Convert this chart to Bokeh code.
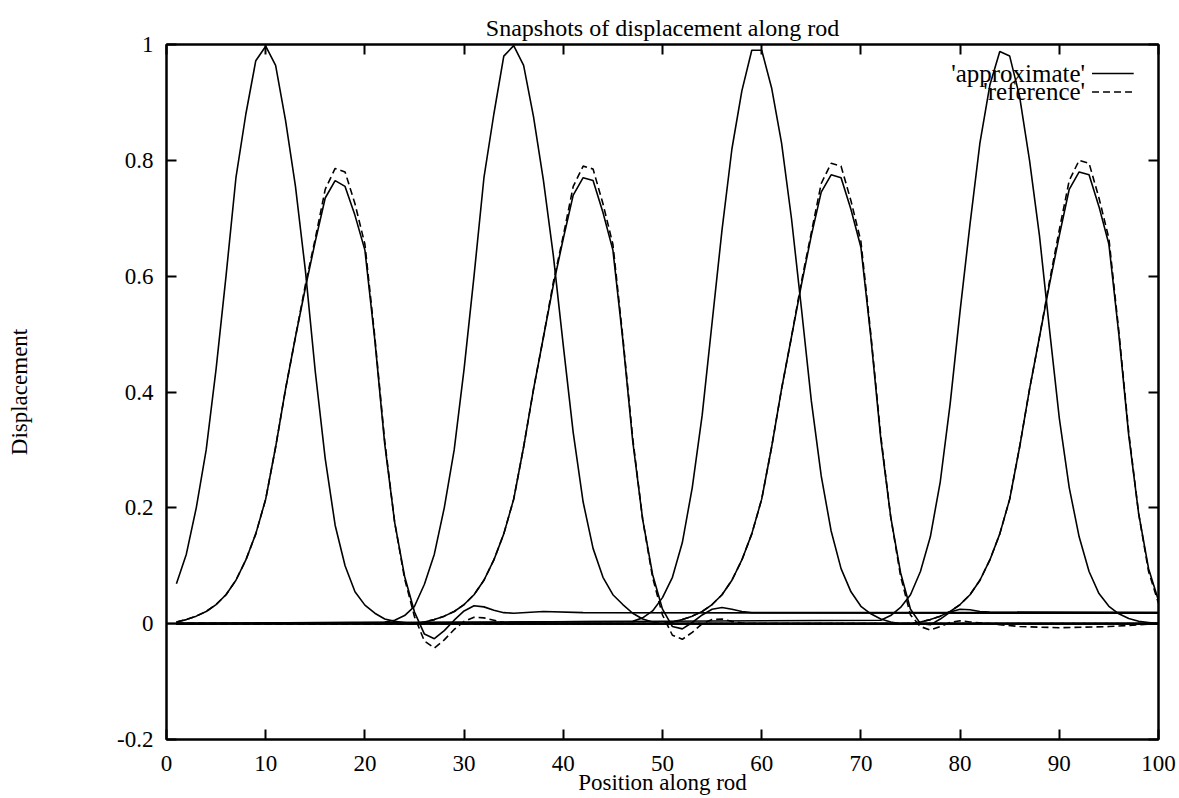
from bokeh.plotting import figure
from bokeh.models import Range1d, FixedTicker, LinearAxis, Span, Label, Arrow
from bokeh.embed import file_html
from bokeh.resources import INLINE

# ---------------- data ----------------
x_ticks = [0, 10, 20, 30, 40, 50, 60, 70, 80, 90, 100]
y_ticks = [-0.2, 0, 0.2, 0.4, 0.6, 0.8, 1]
y_tick_labels = ["-0.2", "0", "0.2", "0.4", "0.6", "0.8", "1"]

# narrow pulses (approximate and reference coincide)
n1_pos = [1, 2, 3, 4, 5, 6, 7, 8, 9, 10, 11, 12, 13, 14, 15, 16, 17, 18, 19, 20, 21, 22, 23, 24, 25, 100]
n1_val = [0.069, 0.12, 0.20, 0.30, 0.44, 0.60, 0.77, 0.88, 0.972, 0.997, 0.964, 0.869, 0.755, 0.61, 0.435,
          0.285, 0.17, 0.10, 0.055, 0.032, 0.018, 0.008, 0.004, 0.002, 0.0, 0.0]

n2_pos = [1, 22, 23, 24, 25, 26, 27, 28, 29, 30, 31, 32, 33, 34, 35, 36, 37, 38, 39, 40, 41, 42, 43, 44, 45,
          46, 47, 48, 49, 50, 100]
n2_val = [0.0, 0.003, 0.006, 0.014, 0.03, 0.068, 0.12, 0.20, 0.30, 0.44, 0.60, 0.77, 0.88, 0.98, 0.998, 0.964,
          0.875, 0.765, 0.635, 0.48, 0.33, 0.21, 0.13, 0.08, 0.05, 0.033, 0.018, 0.008, 0.003, 0.0, 0.0]

n3_pos = [1, 47, 48, 49, 50, 51, 52, 53, 54, 55, 56, 57, 58, 59, 60, 61, 62, 63, 64, 65, 66, 67, 68, 69, 70,
          71, 72, 73, 74, 100]
n3_val = [0.0, 0.004, 0.01, 0.022, 0.045, 0.08, 0.14, 0.235, 0.36, 0.52, 0.68, 0.82, 0.92, 0.99, 0.99, 0.925,
          0.83, 0.70, 0.545, 0.385, 0.255, 0.16, 0.095, 0.055, 0.03, 0.017, 0.008, 0.003, 0.0, 0.0]

n4_pos = [1, 72, 73, 74, 75, 76, 77, 78, 79, 80, 81, 82, 83, 84, 85, 86, 87, 88, 89, 90, 91, 92, 93, 94, 95,
          96, 97, 98, 99, 100]
n4_val = [0.0, 0.006, 0.014, 0.028, 0.05, 0.09, 0.15, 0.245, 0.38, 0.54, 0.69, 0.83, 0.93, 0.988, 0.98, 0.91,
          0.80, 0.67, 0.51, 0.355, 0.235, 0.15, 0.09, 0.052, 0.03, 0.017, 0.009, 0.004, 0.002, 0.0]

# broad pulses, approximate (solid)
b1a_pos = [1, 2, 3, 4, 5, 6, 7, 8, 9, 10, 11, 12, 13, 14, 15, 16, 17, 18, 19, 20, 21, 22, 23, 24, 25, 26, 27,
           28, 29, 30, 31, 32, 33, 34, 35, 38, 42, 100]
b1a_val = [0.003, 0.007, 0.013, 0.021, 0.033, 0.05, 0.075, 0.11, 0.155, 0.215, 0.305, 0.405, 0.495, 0.58, 0.66,
           0.735, 0.765, 0.755, 0.705, 0.645, 0.49, 0.31, 0.175, 0.082, 0.02, -0.018, -0.026, -0.012, 0.006,
           0.022, 0.031, 0.029, 0.023, 0.019, 0.018, 0.021, 0.019, 0.018]

b2a_pos = [1, 25, 26, 27, 28, 29, 30, 31, 32, 33, 34, 35, 36, 37, 38, 39, 40, 41, 42, 43, 44, 45, 46, 47, 48,
           49, 50, 51, 52, 53, 54, 55, 56, 57, 58, 59, 100]
b2a_val = [0.0, 0.0, 0.003, 0.007, 0.013, 0.021, 0.033, 0.05, 0.075, 0.11, 0.155, 0.215, 0.305, 0.405, 0.495,
           0.585, 0.665, 0.74, 0.77, 0.765, 0.71, 0.645, 0.49, 0.315, 0.18, 0.085, 0.025, -0.005, -0.009, 0.002,
           0.015, 0.025, 0.028, 0.025, 0.021, 0.019, 0.019]

b3a_pos = [1, 50, 51, 52, 53, 54, 55, 56, 57, 58, 59, 60, 61, 62, 63, 64, 65, 66, 67, 68, 69, 70, 71, 72, 73,
           74, 75, 76, 77, 78, 79, 80, 81, 82, 83, 100]
b3a_val = [0.0, 0.0, 0.003, 0.007, 0.013, 0.021, 0.033, 0.05, 0.075, 0.11, 0.155, 0.215, 0.305, 0.405, 0.495,
           0.585, 0.67, 0.745, 0.775, 0.77, 0.715, 0.65, 0.495, 0.32, 0.185, 0.088, 0.025, 0.0, -0.002, 0.008,
           0.02, 0.025, 0.024, 0.021, 0.02, 0.019]

b4a_pos = [1, 75, 76, 77, 78, 79, 80, 81, 82, 83, 84, 85, 86, 87, 88, 89, 90, 91, 92, 93, 94, 95, 96, 97, 98,
           99, 100]
b4a_val = [0.0, 0.0, 0.003, 0.007, 0.013, 0.021, 0.033, 0.05, 0.075, 0.11, 0.155, 0.215, 0.305, 0.405, 0.495,
           0.585, 0.67, 0.75, 0.78, 0.775, 0.72, 0.655, 0.50, 0.325, 0.19, 0.095, 0.04]

# broad pulses, reference (dashed)
b1r_pos = [1, 2, 3, 4, 5, 6, 7, 8, 9, 10, 11, 12, 13, 14, 15, 16, 17, 18, 19, 20, 21, 22, 23, 24, 25, 26, 27,
           28, 29, 30, 31, 32, 33, 34, 35, 100]
b1r_val = [0.003, 0.007, 0.013, 0.021, 0.033, 0.05, 0.075, 0.11, 0.155, 0.215, 0.305, 0.405, 0.495, 0.585, 0.665,
           0.75, 0.786, 0.78, 0.725, 0.655, 0.495, 0.315, 0.175, 0.078, 0.012, -0.03, -0.042, -0.028, -0.01,
           0.004, 0.011, 0.01, 0.006, 0.002, 0.0, 0.0]

b2r_pos = [1, 25, 26, 27, 28, 29, 30, 31, 32, 33, 34, 35, 36, 37, 38, 39, 40, 41, 42, 43, 44, 45, 46, 47, 48,
           49, 50, 51, 52, 53, 54, 55, 56, 57, 58, 59, 100]
b2r_val = [0.0, 0.0, 0.003, 0.007, 0.013, 0.021, 0.033, 0.05, 0.075, 0.11, 0.155, 0.215, 0.305, 0.405, 0.495,
           0.59, 0.67, 0.755, 0.79, 0.785, 0.725, 0.655, 0.495, 0.32, 0.18, 0.08, 0.015, -0.02, -0.027, -0.015,
           0.0, 0.007, 0.008, 0.004, 0.001, 0.0, 0.0]

b3r_pos = [1, 50, 51, 52, 53, 54, 55, 56, 57, 58, 59, 60, 61, 62, 63, 64, 65, 66, 67, 68, 69, 70, 71, 72, 73,
           74, 75, 76, 77, 78, 79, 80, 81, 83, 86, 90, 95, 100]
b3r_val = [0.0, 0.0, 0.003, 0.007, 0.013, 0.021, 0.033, 0.05, 0.075, 0.11, 0.155, 0.215, 0.305, 0.405, 0.495,
           0.59, 0.675, 0.76, 0.795, 0.79, 0.73, 0.66, 0.50, 0.325, 0.185, 0.082, 0.015, -0.005, -0.011, -0.005,
           0.002, 0.005, 0.003, 0.0, -0.005, -0.007, -0.005, 0.0]

b4r_pos = [1, 75, 76, 77, 78, 79, 80, 81, 82, 83, 84, 85, 86, 87, 88, 89, 90, 91, 92, 93, 94, 95, 96, 97, 98,
           99, 100]
b4r_val = [0.0, 0.0, 0.003, 0.007, 0.013, 0.021, 0.033, 0.05, 0.075, 0.11, 0.155, 0.215, 0.305, 0.405, 0.495,
           0.59, 0.68, 0.765, 0.80, 0.795, 0.735, 0.665, 0.505, 0.33, 0.19, 0.09, 0.035]

# ---------------- figure ----------------
FONT = "Liberation Serif"

p = figure(width=1179, height=798, x_range=Range1d(0, 100), y_range=Range1d(-0.2, 1),
           output_backend="svg", toolbar_location=None,
           min_border_left=166, min_border_right=21, min_border_top=44, min_border_bottom=59,
           title="Snapshots of displacement along rod")
p.background_fill_color = "white"
p.border_fill_color = "white"
p.outline_line_color = "black"
p.outline_line_width = 2
p.xgrid.visible = False
p.ygrid.visible = False

p.title.align = "center"
p.title.text_font = FONT
p.title.text_font_size = "24px"
p.title.text_font_style = "normal"
p.title.text_color = "black"
p.title.standoff = 8

for ax in (p.xaxis[0], p.yaxis[0]):
    ax.major_tick_in = 10
    ax.major_tick_out = 0
    ax.minor_tick_line_color = None
    ax.axis_line_width = 2
    ax.major_tick_line_width = 2
    ax.major_label_text_font = FONT
    ax.major_label_text_font_size = "23px"
    ax.major_label_text_color = "black"
    ax.axis_label_text_font = FONT
    ax.axis_label_text_font_size = "23px"
    ax.axis_label_text_font_style = "normal"
    ax.axis_label_text_color = "black"

p.xaxis.ticker = FixedTicker(ticks=x_ticks)
p.yaxis.ticker = FixedTicker(ticks=y_ticks)
p.yaxis.major_label_overrides = {t: s for t, s in zip(y_ticks, y_tick_labels)}
p.xaxis.axis_label = "Position along rod"
p.yaxis.axis_label = "Displacement"
p.xaxis.major_label_standoff = 16
p.xaxis.axis_label_standoff = -4
p.yaxis.major_label_standoff = 13
p.yaxis.axis_label_standoff = 82

for side, tk in (("above", x_ticks), ("right", y_ticks)):
    ax = LinearAxis(ticker=FixedTicker(ticks=tk))
    ax.major_tick_in = 10
    ax.major_tick_out = 0
    ax.minor_tick_line_color = None
    ax.axis_line_width = 2
    ax.major_tick_line_width = 2
    ax.major_label_text_color = None
    ax.major_label_text_font_size = "1px"
    ax.major_label_standoff = 0
    p.add_layout(ax, side)

p.add_layout(Span(location=0, dimension="width", line_color="black", line_width=1.6))

W = 1.6
# reference curves (dashed) first, approximate (solid) on top
for xs, ys in ((b1r_pos, b1r_val), (b2r_pos, b2r_val), (b3r_pos, b3r_val), (b4r_pos, b4r_val)):
    p.line(xs, ys, line_color="black", line_width=W, line_dash="7 4")
for xs, ys in ((n1_pos, n1_val), (n2_pos, n2_val), (n3_pos, n3_val), (n4_pos, n4_val),
               (b1a_pos, b1a_val), (b2a_pos, b2a_val), (b3a_pos, b3a_val), (b4a_pos, b4a_val)):
    p.line(xs, ys, line_color="black", line_width=W)

# legend (gnuplot style: text then sample)
p.add_layout(Label(x=92.6, y=0.95, text="'approximate'", text_align="right", text_baseline="middle",
                   text_font=FONT, text_font_size="25px", text_color="black"))
p.add_layout(Label(x=92.6, y=0.918, text="'reference'", text_align="right", text_baseline="middle",
                   text_font=FONT, text_font_size="25px", text_color="black"))
p.add_layout(Arrow(end=None, x_start=93.3, y_start=0.95, x_end=97.5, y_end=0.95,
                   line_color="black", line_width=W))
p.add_layout(Arrow(end=None, x_start=93.3, y_start=0.918, x_end=97.5, y_end=0.918,
                   line_color="black", line_width=W, line_dash="7 4"))

open("out.html", "w").write(file_html(p, INLINE))
